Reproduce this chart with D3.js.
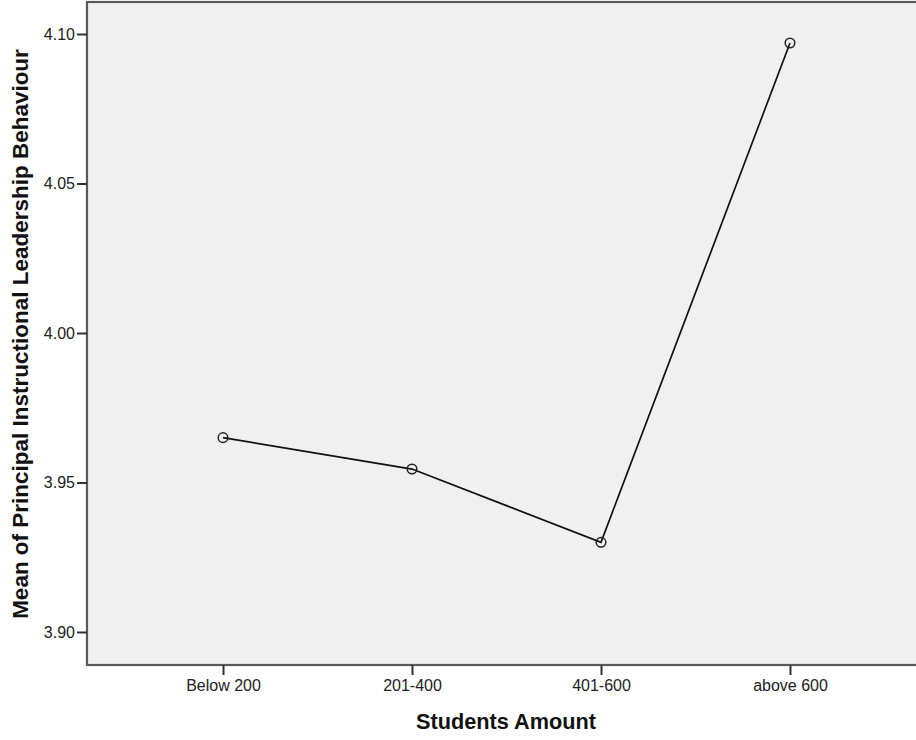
<!DOCTYPE html>
<html><head><meta charset="utf-8">
<script src="https://cdn.jsdelivr.net/npm/d3@7"></script>
<style>body{margin:0;background:#fff;}svg{display:block;font-family:"Liberation Sans",Arial,sans-serif;}</style>
</head><body><svg id="c" width="916" height="740"></svg>
<script>
const categories = ["Below 200","201-400","401-600","above 600"];
const means = [3.965, 3.9545, 3.930, 4.097];
const yTicks = [3.90, 3.95, 4.00, 4.05, 4.10];

const svg = d3.select("#c");
const L = 87, T = 2, R = 926, B = 665;
const x = d3.scalePoint().domain(categories).range([223, 790]);
const y = d3.scaleLinear().domain([3.90, 4.10]).range([632, 34]);

svg.append("rect").attr("x", L).attr("y", T).attr("width", R - L).attr("height", B - T)
  .attr("fill", "#f0f0f0").attr("stroke", "#5a5a5a").attr("stroke-width", 2.2);

const ya = svg.append("g").attr("transform", `translate(${L},0)`)
  .call(d3.axisLeft(y).tickValues(yTicks).tickFormat(d3.format(".2f")).tickSize(10).tickPadding(2));
ya.select(".domain").remove();
ya.selectAll("line").attr("stroke", "#333").attr("stroke-width", 2);
ya.selectAll("text").attr("font-size", 16).attr("fill", "#222").attr("font-family", "Liberation Sans, Arial, sans-serif");

const xa = svg.append("g").attr("transform", `translate(0,${B})`)
  .call(d3.axisBottom(x).tickSize(10).tickPadding(5));
xa.select(".domain").remove();
xa.selectAll("line").attr("stroke", "#333").attr("stroke-width", 2);
xa.selectAll("text").attr("font-size", 16).attr("fill", "#222").attr("font-family", "Liberation Sans, Arial, sans-serif");

const data = categories.map((c, i) => ({c, v: means[i]}));
svg.append("path").datum(data)
  .attr("d", d3.line().x(d => x(d.c)).y(d => y(d.v)))
  .attr("fill", "none").attr("stroke", "#111").attr("stroke-width", 1.7);
svg.selectAll(".pt").data(data).join("circle")
  .attr("cx", d => x(d.c)).attr("cy", d => y(d.v)).attr("r", 4.8)
  .attr("fill", "none").attr("stroke", "#222").attr("stroke-width", 1.5);

function fit(sel, target) {
  const w = sel.node().getComputedTextLength();
  sel.attr("font-size", 20 * target / w);
}
const xt = svg.append("text").attr("x", 506).attr("y", 729).attr("text-anchor", "middle")
  .attr("font-size", 20).attr("font-weight", "bold").attr("fill", "#111").text("Students Amount");
fit(xt, 180);
const yt = svg.append("text").attr("transform", "translate(28,334) rotate(-90)").attr("text-anchor", "middle")
  .attr("font-size", 20).attr("font-weight", "bold").attr("fill", "#111")
  .text("Mean of Principal Instructional Leadership Behaviour");
fit(yt, 570);
</script></body></html>
